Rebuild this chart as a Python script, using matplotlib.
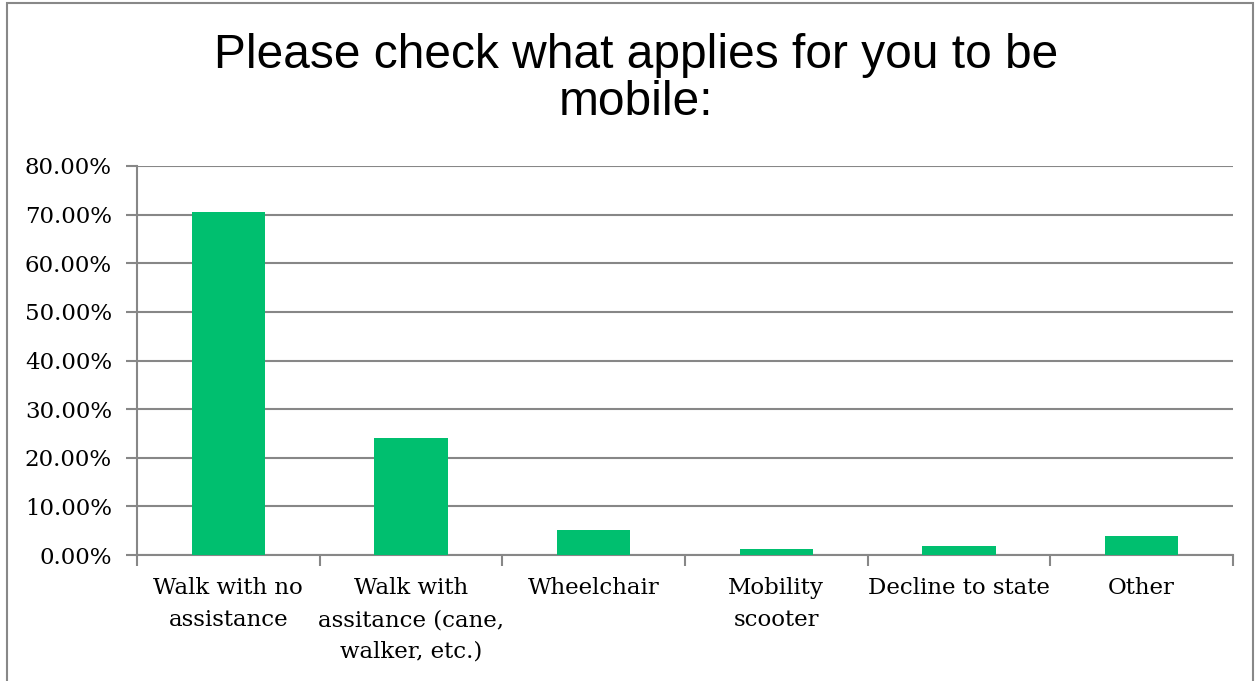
import matplotlib.pyplot as plt
from matplotlib.patches import Rectangle
from matplotlib.ticker import FuncFormatter

categories = ["Walk with no\nassistance", "Walk with\nassitance (cane,\nwalker, etc.)",
              "Wheelchair", "Mobility\nscooter", "Decline to state", "Other"]
values = [70.6, 24.1, 5.1, 1.3, 1.85, 4.0]
yticks = [0, 10, 20, 30, 40, 50, 60, 70, 80]

grid_color = "#878787"

fig = plt.figure(figsize=(12.56, 6.81), dpi=100)
ax = fig.add_axes([137 / 1256, 1 - 555 / 681, 1096 / 1256, 389 / 681])

x = list(range(len(categories)))
ax.bar(x, values, width=0.4, color="#00BF6F", zorder=3)

ax.set_xlim(-0.5, len(categories) - 0.5)
ax.set_ylim(0, 80)
ax.set_yticks(yticks)
ax.yaxis.set_major_formatter(FuncFormatter(lambda v, p: f"{v:.2f}%"))
ax.grid(axis="y", color=grid_color, linewidth=1.5, zorder=0)

ax.set_xticks(x)
ax.set_xticklabels(categories, family="DejaVu Serif", fontsize=16.5, linespacing=1.58)
ax.set_xticks([i - 0.5 for i in range(len(categories) + 1)], minor=True)
ax.tick_params(axis="x", which="major", length=0, pad=16)
ax.tick_params(axis="x", which="minor", length=8, width=1.5, color=grid_color)
ax.tick_params(axis="y", length=8, width=1.5, color=grid_color, pad=10)
for lab in ax.get_yticklabels():
    lab.set_family("DejaVu Serif")
    lab.set_fontsize(16.5)

for s in ["top", "right"]:
    ax.spines[s].set_visible(False)
for s in ["left", "bottom"]:
    ax.spines[s].set_color(grid_color)
    ax.spines[s].set_linewidth(1.5)

fig.text(636 / 1256, 1 - 79 / 681, "Please check what applies for you to be\nmobile:",
         ha="center", va="center", family="Liberation Sans", fontsize=34.5, linespacing=1.05)

fig.patches.append(Rectangle((7 / 1256, -0.01), 1246 / 1256, 1 - 3 / 681 + 0.01,
                             transform=fig.transFigure, fill=False,
                             edgecolor="#888888", linewidth=1.5))

plt.savefig("out.png", dpi=100)
